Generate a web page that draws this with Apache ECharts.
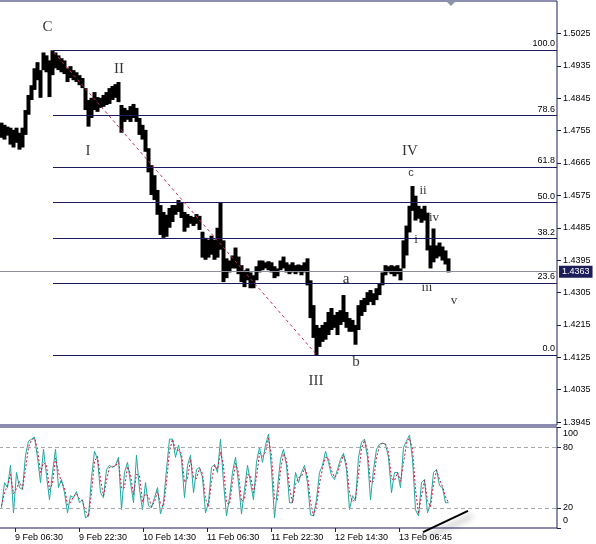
<!DOCTYPE html>
<html><head><meta charset="utf-8">
<script src="https://cdn.jsdelivr.net/npm/echarts@6/dist/echarts.min.js"></script>
<style>html,body{margin:0;padding:0;background:#fff}#c{width:596px;height:544px}</style>
</head><body><div id="c"></div>
<script>
// ---- data (price bars: 45-minute aggregates, time index in 15-min steps) ----
const barHigh = [
1.4777,1.4771,1.4766,1.4763,1.4757,1.4763,1.4749,1.4763,1.4812,1.4854,
1.4881,1.4928,1.4945,1.4923,1.4972,1.4964,1.4950,1.4978,1.4972,1.4964,
1.4956,1.4950,1.4928,1.4934,1.4923,1.4917,1.4909,1.4901,1.4873,1.4840,
1.4846,1.4862,1.4848,1.4846,1.4854,1.4862,1.4873,1.4879,1.4884,1.4890,
1.4826,1.4818,1.4812,1.4823,1.4829,1.4818,1.4790,1.4771,1.4757,1.4706,
1.4659,1.4631,1.4590,1.4548,1.4529,1.4521,1.4540,1.4548,1.4548,1.4562,
1.4556,1.4529,1.4523,1.4518,1.4515,1.4523,1.4518,1.4474,1.4457,1.4452,
1.4463,1.4452,1.4485,1.4554,1.4450,1.4400,1.4394,1.4408,1.4430,1.4405,
1.4381,1.4367,1.4372,1.4361,1.4353,1.4378,1.4394,1.4394,1.4389,1.4392,
1.4389,1.4378,1.4372,1.4394,1.4405,1.4389,1.4383,1.4389,1.4381,1.4383,
1.4381,1.4389,1.4400,1.4339,1.4270,1.4215,1.4207,1.4215,1.4223,1.4251,
1.4262,1.4243,1.4251,1.4256,1.4298,1.4251,1.4234,1.4229,1.4215,1.4270,
1.4284,1.4290,1.4306,1.4312,1.4303,1.4317,1.4331,1.4361,1.4381,1.4378,
1.4381,1.4378,1.4381,1.4372,1.4450,1.4491,1.4546,1.4601,1.4574,1.4546,
1.4538,1.4546,1.4527,1.4436,1.4483,1.4436,1.4444,1.4433,1.4422,1.4400];
const barLow = [
1.4735,1.4730,1.4741,1.4716,1.4708,1.4721,1.4702,1.4708,1.4743,1.4799,
1.4840,1.4868,1.4895,1.4846,1.4923,1.4917,1.4848,1.4909,1.4928,1.4923,
1.4917,1.4912,1.4890,1.4901,1.4895,1.4890,1.4881,1.4873,1.4812,1.4766,
1.4790,1.4812,1.4807,1.4818,1.4821,1.4826,1.4829,1.4840,1.4846,1.4834,
1.4749,1.4779,1.4785,1.4779,1.4790,1.4779,1.4743,1.4730,1.4696,1.4639,
1.4576,1.4562,1.4521,1.4465,1.4457,1.4460,1.4485,1.4501,1.4521,1.4529,
1.4512,1.4474,1.4485,1.4496,1.4490,1.4496,1.4479,1.4402,1.4396,1.4402,
1.4410,1.4396,1.4402,1.4424,1.4334,1.4345,1.4361,1.4372,1.4372,1.4356,
1.4334,1.4320,1.4339,1.4317,1.4317,1.4339,1.4361,1.4367,1.4372,1.4367,
1.4361,1.4345,1.4350,1.4367,1.4372,1.4361,1.4356,1.4361,1.4356,1.4361,
1.4353,1.4361,1.4325,1.4234,1.4179,1.4131,1.4154,1.4168,1.4174,1.4187,
1.4201,1.4207,1.4187,1.4215,1.4223,1.4207,1.4196,1.4196,1.4160,1.4201,
1.4240,1.4251,1.4270,1.4279,1.4270,1.4284,1.4298,1.4325,1.4353,1.4361,
1.4356,1.4350,1.4356,1.4339,1.4372,1.4408,1.4472,1.4532,1.4505,1.4510,
1.4499,1.4505,1.4422,1.4372,1.4389,1.4400,1.4405,1.4394,1.4383,1.4361];
const stochK = [
20,45,40,62,15,55,40,38,72,86, 88,90,70,45,78,52,28,55,78,40,
48,35,15,32,30,36,25,28,10,12, 50,76,68,35,30,58,62,60,62,70,
18,55,65,45,25,72,38,18,45,22, 20,30,40,14,25,58,88,88,70,82,
68,30,62,72,35,58,60,50,15,25, 60,63,55,88,45,12,30,55,70,45,
14,38,62,45,28,65,80,65,82,93, 58,10,40,68,78,62,25,25,55,45,
55,62,45,13,12,28,55,62,76,65, 52,48,58,68,74,58,18,32,27,70,
85,88,70,28,58,78,83,84,83,70, 35,55,55,40,80,86,92,68,18,12,
45,48,15,25,55,58,42,40,25,25];
const stochD = [
22,35,42,53,34,39,46,39,58,80, 87,89,78,55,65,62,38,44,69,55,
45,40,23,25,31,34,29,27,17,11, 35,66,71,48,32,47,60,61,61,67,
39,40,61,53,33,53,52,26,34,31, 21,26,36,24,21,45,76,88,77,77,
74,45,49,68,50,49,59,54,29,21, 46,62,58,75,62,25,23,45,64,55,
26,29,53,52,35,50,74,71,75,89, 72,29,28,57,74,68,40,25,43,50,
51,59,52,26,12,22,44,59,70,69, 57,50,54,64,72,64,34,26,29,53,
79,87,77,45,46,70,81,84,83,75, 49,47,55,46,64,84,89,78,38,14,
32,47,27,21,43,57,48,41,31,25];
const timeTicks = [15,79,143,207,271,335,399];
const timeLabels = ['9 Feb 06:30','9 Feb 22:30','10 Feb 14:30','11 Feb 06:30','11 Feb 22:30','12 Feb 14:30','13 Feb 06:45'];
const priceTicks = [1.3945,1.4035,1.4125,1.4215,1.4305,1.4395,1.4485,1.4575,1.4665,1.4755,1.4845,1.4935,1.5025];
const stochTicks = [0,20,80,100];
const fibRatios = [0,23.6,38.2,50,61.8,78.6,100];
const fibLow = 1.4131, fibHigh = 1.4978, fibStart = 53;
const lastPrice = 1.4363;
const waveNames  = ['C','II','I','III','IV','a','b','c','ii','i','iv','iii','v'];
const waveTimes  = [47.5,119,88,316,410,346,356,411,423,416,434,427,454];
const wavePrices = [1.5043,1.4926,1.4698,1.4059,1.4698,1.4342,1.4112,1.4637,1.4587,1.4451,1.4514,1.4320,1.4284];
const trendFrom = [54,1.4972], trendTo = [316,1.4134];
const stochTrendTimes = [423,468], stochTrendValues = [-4,17];

// ---- chart ----
const barTime = barHigh.map((_, i) => 1.5 + 3 * i);
const NAVY = '#1b1b5e';
const FONT = 'Liberation Sans';
const bigWaves = ['C','I','II','III','IV','a','b'];
const chart = echarts.init(document.getElementById('c'));
const fibLines = fibRatios.map(r => {
  const lvl = fibLow + (fibHigh - fibLow) * r / 100;
  return [{coord:[fibStart, lvl], label:{formatter:r.toFixed(1)}}, {coord:[557, lvl]}];
});
chart.setOption({
  animation:false,
  backgroundColor:'#ffffff',
  grid:[
    {left:-1, right:39, top:1, height:424, show:true, borderColor:NAVY, borderWidth:1, outerBoundsMode:'none'},
    {left:-1, right:39, top:427, height:101, show:true, borderColor:NAVY, borderWidth:1, outerBoundsMode:'none'}
  ],
  xAxis:[
    {type:'value', gridIndex:0, min:-1, max:557, show:false, axisLine:{onZero:false}},
    {type:'value', gridIndex:1, min:-1, max:557, splitLine:{show:false}, axisLine:{show:false, onZero:false},
     axisTick:{show:true, customValues:timeTicks, length:4, lineStyle:{color:NAVY}},
     axisLabel:{customValues:timeTicks, formatter:v => timeLabels[timeTicks.indexOf(v)], align:'left',
       margin:5, fontSize:9, color:'#000', fontFamily:FONT}}
  ],
  yAxis:[
    {type:'value', gridIndex:0, position:'right', min:1.3937, max:1.5115, scale:true,
     splitLine:{show:false}, axisLine:{show:false, onZero:false},
     axisTick:{show:true, customValues:priceTicks, length:4, lineStyle:{color:NAVY}},
     axisLabel:{customValues:priceTicks, formatter:v => v.toFixed(4), margin:6, fontSize:9, color:'#000', fontFamily:FONT}},
    {type:'value', gridIndex:1, position:'right', min:0, max:100,
     splitLine:{show:false}, axisLine:{show:false, onZero:false},
     axisTick:{show:true, customValues:stochTicks, length:4, lineStyle:{color:NAVY}},
     axisLabel:{customValues:stochTicks, margin:6, fontSize:9, color:'#000', fontFamily:FONT,
       formatter:v => v === 100 ? '{t|100}' : (v === 0 ? '{b|0}' : String(v)),
       rich:{t:{padding:[14,0,0,0], fontSize:9, fontFamily:FONT}, b:{padding:[0,0,14,0], fontSize:9, fontFamily:FONT}}}}
  ],
  graphic:[{type:'polygon', shape:{points:[[446,1],[456,1],[451,6]]}, style:{fill:'#8a96a8'}, silent:true}],
  series:[
    {type:'candlestick', xAxisIndex:0, yAxisIndex:0, barWidth:4,
     encode:{x:0, y:[1,2,3,4]},
     data: barTime.map((t, i) => [t, barLow[i], barHigh[i], barLow[i], barHigh[i]]),
     itemStyle:{color:'#000', color0:'#000', borderColor:'#000', borderColor0:'#000', borderWidth:0},
     markLine:{silent:true, symbol:['none','none'], animation:false,
       lineStyle:{color:NAVY, width:1, type:'solid'},
       label:{show:true, position:'insideEndTop', distance:[2,2], fontSize:9, color:'#000', fontFamily:FONT},
       data:[
         ...fibLines,
         [{coord:trendFrom, lineStyle:{color:'#d02848', type:[3,3], width:1}, label:{show:false}}, {coord:trendTo}],
         [{coord:[-1, lastPrice], lineStyle:{color:'#8a8f99', width:1, type:'solid'},
           label:{show:true, position:'end', distance:2, formatter:lastPrice.toFixed(4), color:'#fff',
             backgroundColor:'#1c1c58', padding:[2,3,1,3], fontSize:9, fontFamily:FONT}},
          {coord:[557, lastPrice]}]
       ]}},
    {type:'scatter', xAxisIndex:0, yAxisIndex:0, symbolSize:0.1, silent:true, z:10,
     data: waveNames.map((n, i) => ({value:[waveTimes[i], wavePrices[i]],
       label:{fontSize: n === 'c' ? 11 : (bigWaves.includes(n) ? 15 : 13),
              fontFamily: n === 'c' ? FONT : 'Liberation Serif'}})),
     label:{show:true, position:'inside', color:'#000', formatter:p => waveNames[p.dataIndex]}},
    {type:'line', xAxisIndex:1, yAxisIndex:1, symbol:'none',
     data: barTime.map((t, i) => [t, stochK[i]]),
     lineStyle:{color:'#1fa8a0', width:1},
     markLine:{silent:true, symbol:['none','none'], label:{show:false},
       lineStyle:{color:'#a9a9a9', type:[4,3], width:1}, data:[{yAxis:80},{yAxis:20}]}},
    {type:'line', xAxisIndex:1, yAxisIndex:1, symbol:'none',
     data: barTime.map((t, i) => [t, stochD[i]]),
     lineStyle:{color:'#d0143c', width:1, type:[2,2]}},
    {type:'line', xAxisIndex:1, yAxisIndex:1, symbol:'none', clip:false, silent:true, z:5,
     data: stochTrendTimes.map((t, i) => [t, stochTrendValues[i]]),
     lineStyle:{color:'#000', width:2, shadowColor:'rgba(0,0,0,0.45)', shadowBlur:6, shadowOffsetX:4, shadowOffsetY:5}}
  ]
});
</script></body></html>
